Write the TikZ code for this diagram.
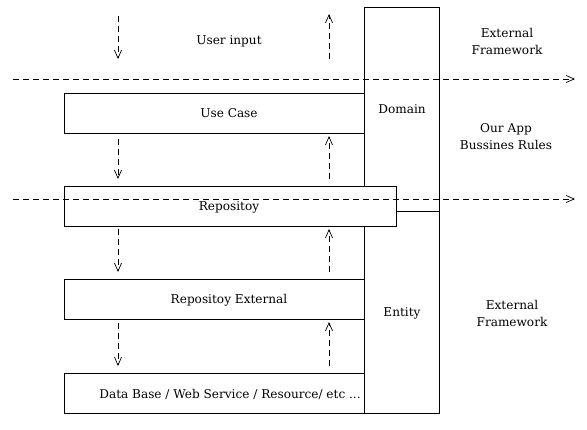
\documentclass[tikz,border=0pt]{standalone}
\usepackage{fontspec}
\setmainfont{DejaVu Serif}
\usetikzlibrary{arrows.meta}
\begin{document}
\begin{tikzpicture}[x=1pt,y=-1pt,
  every node/.style={font=\fontsize{12.1}{17}\selectfont, inner sep=0pt, outer sep=0pt},
  layer/.style={draw, line width=0.8pt, fill=white, minimum height=40pt},
  flow/.style={draw, dashed, line width=0.7pt, dash pattern=on 6pt off 4pt, -{Straight Barb[length=8pt,width=7pt]}},
  lbl/.style={align=center}]
\useasboundingbox (0,0) rectangle (587,429);
% tall boxes
\node[draw, line width=0.8pt, minimum width=75pt, minimum height=204pt] (domain) at (401.5,109) {};
\node at (402,109) (domaintxt) {Domain};
\node[draw, line width=0.8pt, minimum width=75pt, minimum height=202pt] (entity) at (401.5,312) {};
\node at (402,313) (entitytxt) {Entity};
% layers
\node[layer, minimum width=300pt] (usecase) at (214,113) {};
\node at (229,113) (usecasetxt) {Use Case};
\node[layer, minimum width=332pt] (repo) at (230,206) {};
\node at (229,207) (repotxt) {Repositoy};
\node[layer, minimum width=300pt] (repoext) at (214,299.5) {};
\node at (229,300) (repoexttxt) {Repositoy External};
\node[layer, minimum width=300pt] (db) at (214,393) {};
\node at (230,394) (dbtxt) {Data Base / Web Service / Resource/ etc ...};
% labels
\node[lbl] (userinput) at (229,41) {User input};
\node[lbl] (ext1) at (507,41) {External\\Framework};
\node[lbl] (app) at (506,137) {Our App\\Bussines Rules};
\node[lbl] (ext2) at (512,313) {External\\Framework};
% boundary lines
\coordinate (b1s) at (13,79); \coordinate (b1e) at (575,79);
\coordinate (b2s) at (13,199); \coordinate (b2e) at (575,199);
\draw[flow] (b1s) -- (b1e);
\draw[flow] (b2s) -- (b2e);
% vertical flows
\coordinate (d1s) at (118,16);  \coordinate (d1e) at (118,59);
\coordinate (d2s) at (118,139); \coordinate (d2e) at (118,179);
\coordinate (d3s) at (118,229); \coordinate (d3e) at (118,272);
\coordinate (d4s) at (118,323); \coordinate (d4e) at (118,366);
\coordinate (u1s) at (329,59);  \coordinate (u1e) at (329,14);
\coordinate (u2s) at (329,179); \coordinate (u2e) at (329,136);
\coordinate (u3s) at (329,272); \coordinate (u3e) at (329,229);
\coordinate (u4s) at (329,366); \coordinate (u4e) at (329,322);
\foreach \p in {d1,d2,d3,d4,u1,u2,u3,u4} \draw[flow] (\p s) -- (\p e);
\end{tikzpicture}
\end{document}
